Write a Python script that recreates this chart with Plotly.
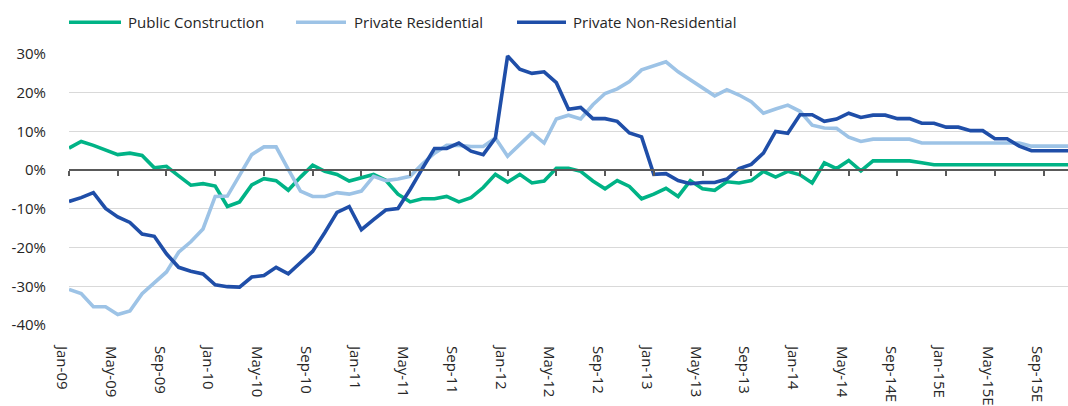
import plotly.graph_objects as go

series_names = ["Public Construction", "Private Residential", "Private Non-Residential"]
series_colors = ["#00B386", "#9DC3E6", "#1F4EA8"]

# monthly categories Jan-09 .. Nov-15
years = ["09", "10", "11", "12", "13", "14", "15"]
mon = ["Jan", "Feb", "Mar", "Apr", "May", "Jun", "Jul", "Aug", "Sep", "Oct", "Nov", "Dec"]
months = [f"{m}-{y}" for y in years for m in mon][:83]

tick_labels = ["Jan-09", "May-09", "Sep-09", "Jan-10", "May-10", "Sep-10", "Jan-11", "May-11",
               "Sep-11", "Jan-12", "May-12", "Sep-12", "Jan-13", "May-13", "Sep-13", "Jan-14",
               "May-14", "Sep-14E", "Jan-15E", "May-15E", "Sep-15E"]
tick_months = ["Jan-09", "May-09", "Sep-09", "Jan-10", "May-10", "Sep-10", "Jan-11", "May-11",
               "Sep-11", "Jan-12", "May-12", "Sep-12", "Jan-13", "May-13", "Sep-13", "Jan-14",
               "May-14", "Sep-14", "Jan-15", "May-15", "Sep-15"]

public = [5.7, 7.4, 6.4, 5.1, 4.0, 4.4, 3.8, 0.6, 1.0, -1.5, -3.9, -3.5, -4.1, -9.4,
          -8.2, -3.8, -2.2, -2.7, -5.2, -1.8, 1.3, -0.3, -1.1, -2.8, -1.9, -1.1, -2.6,
          -6.2, -8.2, -7.4, -7.4, -6.8, -8.2, -7.1, -4.5, -1.1, -3.1, -1.1, -3.3, -2.8,
          0.5, 0.5, -0.3, -2.8, -4.8, -2.7, -4.2, -7.4, -6.2, -4.7, -6.8, -2.7, -4.8,
          -5.2, -3.0, -3.3, -2.7, -0.3, -1.8, -0.3, -1.2, -3.3, 1.9, 0.4, 2.5, -0.2,
          2.4, 2.4, 2.4, 2.4, 1.9, 1.4, 1.4, 1.4, 1.4, 1.4, 1.4, 1.4, 1.4, 1.4, 1.4, 1.4, 1.4]

residential = [-30.8, -31.9, -35.3, -35.3, -37.3, -36.4, -31.9, -29.1, -26.3, -21.2, -18.5,
               -15.2, -6.8, -6.7, -1.5, 4.0, 6.0, 6.0, 0.2, -5.4, -6.8, -6.8, -5.8, -6.2,
               -5.4, -1.6, -2.7, -2.3, -1.6, 1.6, 4.4, 6.4, 6.4, 6.1, 6.1, 8.3, 3.6, 6.5,
               9.6, 7.0, 13.2, 14.2, 13.2, 16.9, 19.8, 21.0, 22.9, 25.9, 26.9, 28.0, 25.4,
               23.3, 21.3, 19.2, 20.8, 19.4, 17.7, 14.7, 15.8, 16.8, 15.2, 11.6, 10.9, 10.8,
               8.5, 7.4, 8.0, 8.0, 8.0, 8.0, 7.0, 7.0, 7.0, 7.0, 7.0, 7.0, 7.0, 7.0, 7.0,
               6.2, 6.2, 6.2, 6.2]

non_residential = [-8.1, -7.1, -5.8, -9.9, -12.1, -13.5, -16.5, -17.1, -21.6, -25.1, -26.1,
                   -26.8, -29.6, -30.1, -30.2, -27.6, -27.2, -25.1, -26.8, -23.8, -21.0,
                   -16.1, -10.9, -9.4, -15.4, -12.8, -10.3, -9.9, -5.0, 0.4, 5.6, 5.6, 7.0,
                   4.9, 4.0, 8.3, 29.5, 26.1, 25.0, 25.4, 22.6, 15.7, 16.2, 13.3, 13.3, 12.6,
                   9.6, 8.6, -1.1, -0.9, -2.7, -3.5, -3.2, -3.2, -2.3, 0.4, 1.5, 4.4, 10.0,
                   9.5, 14.3, 14.3, 12.6, 13.2, 14.7, 13.6, 14.2, 14.2, 13.3, 13.3, 12.1,
                   12.1, 11.1, 11.1, 10.2, 10.2, 8.1, 8.1, 6.2, 5.0, 5.0, 5.0, 5.0]

y_ticks = [-40, -30, -20, -10, 0, 10, 20, 30]
y_tick_labels = ["-40%", "-30%", "-20%", "-10%", "0%", "10%", "20%", "30%"]

FONT = "Open Sans"
FS = 15
W, H = 1068, 406
L, R, T, B = 69, 0, 54, 79
pw, ph = W - L - R, H - T - B

x_idx = list(range(len(months)))
tick_idx = [months.index(m) for m in tick_months]

fig = go.Figure()
for name, col, vals in zip(series_names, series_colors, [public, residential, non_residential]):
    fig.add_trace(go.Scatter(x=x_idx, y=[v / 100 for v in vals], mode="lines", name=name,
                             line=dict(color=col, width=3.6), showlegend=False,
                             hoverinfo="skip"))

# invisible trace on the zero-crossing axis
fig.add_trace(go.Scatter(x=[0, 82], y=[0, 0], xaxis="x2", mode="lines",
                         line=dict(width=0), showlegend=False, hoverinfo="skip"))

zero_pos = (0 - (-0.40)) / 0.70

fig.update_layout(
    width=W, height=H,
    margin=dict(l=L, r=R, t=T, b=B),
    paper_bgcolor="white", plot_bgcolor="white",
    font=dict(family=FONT, size=FS, color="#333333"),
    xaxis=dict(range=[0, 82], tickvals=tick_idx, ticktext=tick_labels, tickangle=90,
               showgrid=False, zeroline=False, showline=False, ticks="",
               ticklabelstandoff=20, ticklabelshift=-7,
               tickfont=dict(family=FONT, size=FS, color="#262626")),
    xaxis2=dict(range=[0, 82], overlaying="x", anchor="free", position=zero_pos,
                tickvals=tick_idx, showticklabels=False, ticks="outside", ticklen=5,
                tickwidth=1.5, tickcolor="#595959", showline=True, linecolor="#595959",
                linewidth=1.5, showgrid=False, zeroline=False),
    yaxis=dict(range=[-0.40, 0.30], tickvals=[v / 100 for v in y_ticks], ticktext=y_tick_labels,
               showgrid=True, gridcolor="#D9D9D9", gridwidth=1.3, zeroline=False,
               showline=False, ticks="", ticklabelstandoff=22,
               tickfont=dict(family=FONT, size=FS, color="#262626")),
)

# legend drawn with shapes + text
leg_items = [(69, 121, 126), (296, 346, 352), (517, 566, 571)]
leg_y = 22
for (x0, x1, xt), name, col in zip(leg_items, series_names, series_colors):
    fig.add_shape(type="line", xref="paper", yref="paper",
                  x0=(x0 - L) / pw, x1=(x1 - L) / pw,
                  y0=(H - B - leg_y) / ph, y1=(H - B - leg_y) / ph,
                  line=dict(color=col, width=3.6))
    fig.add_annotation(text=name, xref="paper", yref="paper", x=(xt - L) / pw,
                       y=(H - B - leg_y) / ph, xanchor="left", yanchor="middle",
                       showarrow=False, font=dict(family=FONT, size=FS, color="#262626"))

fig.write_html("out.html")
